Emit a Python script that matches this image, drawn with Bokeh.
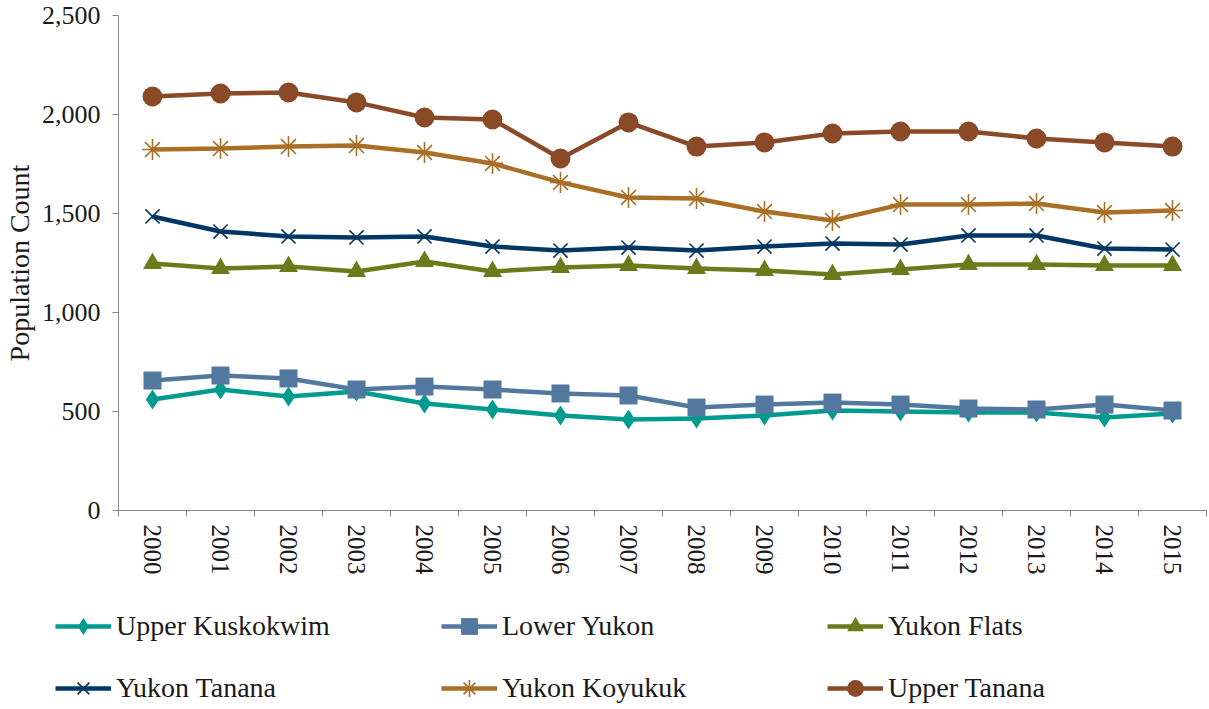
from bokeh.plotting import figure
from bokeh.models import (Range1d, FixedTicker, NumeralTickFormatter, Legend, LegendItem,
                          ColumnDataSource)
from bokeh.embed import file_html
from bokeh.resources import INLINE

years = list(range(2000, 2016))
year_labels = [str(y) for y in years]

upper_kuskokwim = [561, 611, 576, 601, 540, 510, 480, 460, 465, 480, 505, 500, 495, 495, 470, 490]
lower_yukon = [657, 682, 667, 611, 626, 611, 591, 581, 520, 535, 545, 535, 515, 510, 535, 505]
yukon_flats = [1247, 1222, 1232, 1207, 1258, 1207, 1227, 1237, 1222, 1212, 1192, 1217, 1242, 1242, 1237, 1237]
yukon_tanana = [1485, 1409, 1384, 1379, 1384, 1333, 1313, 1328, 1313, 1333, 1348, 1343, 1389, 1389, 1323, 1318]
yukon_koyukuk = [1823, 1828, 1838, 1843, 1808, 1753, 1657, 1581, 1576, 1510, 1465, 1545, 1545, 1550, 1505, 1515]
upper_tanana = [2091, 2106, 2111, 2061, 1985, 1975, 1778, 1960, 1838, 1859, 1904, 1914, 1914, 1879, 1859, 1838]

series = [
    ("Upper Kuskokwim", upper_kuskokwim, "#009B8F", "diamond", 20),
    ("Lower Yukon", lower_yukon, "#53789F", "square", 18),
    ("Yukon Flats", yukon_flats, "#6B7B1B", "triangle", 19),
    ("Yukon Tanana", yukon_tanana, "#003764", "x", 20),
    ("Yukon Koyukuk", yukon_koyukuk, "#A96F27", "asterisk", 21),
    ("Upper Tanana", upper_tanana, "#8A4A27", "circle", 20),
]

FONT = "Liberation Serif"
TEXT = "#1a1a1a"
AXIS = "#888888"
W = 1209

p = figure(width=W, height=590, output_backend="svg", toolbar_location=None,
           x_range=Range1d(1999.5, 2015.5), y_range=Range1d(0, 2500),
           min_border_left=112, min_border_right=3, min_border_top=15, min_border_bottom=80)
p.outline_line_color = None
p.xgrid.visible = False
p.ygrid.visible = False

# legend-only figure below the chart (its glyph copies sit outside its ranges)
lg = figure(width=W, height=119, output_backend="svg", toolbar_location=None,
            x_range=Range1d(-100, -99), y_range=Range1d(-100, -99),
            x_axis_location=None, y_axis_location=None,
            min_border_left=0, min_border_right=0, min_border_top=0, min_border_bottom=0)
lg.outline_line_color = None
lg.xgrid.visible = False
lg.ygrid.visible = False

def draw(fig, src, color, marker, size):
    r1 = fig.line("x", "y", source=src, line_color=color, line_width=4.5)
    if marker in ("x", "asterisk"):
        r2 = fig.scatter("x", "y", source=src, marker=marker, size=size,
                         line_color=color, line_width=1.6, fill_color=None)
    else:
        r2 = fig.scatter("x", "y", source=src, marker=marker, size=size,
                         line_color=color, fill_color=color, line_width=0)
    return r1, r2

items = {}
for name, vals, color, marker, size in series:
    src = ColumnDataSource(dict(x=years, y=vals))
    draw(p, src, color, marker, size)
    r1, r2 = draw(lg, src, color, marker, size)
    items[name] = LegendItem(label=name, renderers=[r1, r2])

# legend fills column by column: order so rows read like the original
legend_order = ["Upper Kuskokwim", "Yukon Tanana", "Lower Yukon",
                "Yukon Koyukuk", "Yukon Flats", "Upper Tanana"]

# axes
p.xaxis.ticker = FixedTicker(ticks=years, minor_ticks=[y - 0.5 for y in years] + [2015.5])
p.xaxis.major_label_overrides = {y: s for y, s in zip(years, year_labels)}
p.xaxis.major_label_orientation = "vertical"
p.xaxis.major_tick_line_color = None
p.xaxis.minor_tick_line_color = AXIS
p.xaxis.minor_tick_out = 6
p.xaxis.minor_tick_in = 0
p.xaxis.axis_line_color = AXIS
p.xaxis.major_label_standoff = 8
p.xaxis.major_label_text_font = FONT
p.xaxis.major_label_text_font_size = "25px"
p.xaxis.major_label_text_color = TEXT

p.yaxis.ticker = FixedTicker(ticks=[0, 500, 1000, 1500, 2000, 2500])
p.yaxis.formatter = NumeralTickFormatter(format="0,0")
p.yaxis.minor_tick_line_color = None
p.yaxis.major_tick_line_color = AXIS
p.yaxis.major_tick_out = 6
p.yaxis.major_tick_in = 0
p.yaxis.axis_line_color = AXIS
p.yaxis.major_label_standoff = 12
p.yaxis.major_label_text_font = FONT
p.yaxis.major_label_text_font_size = "26px"
p.yaxis.major_label_text_color = TEXT
p.yaxis.axis_label = "Population Count"
p.yaxis.axis_label_text_font = FONT
p.yaxis.axis_label_text_font_size = "28px"
p.yaxis.axis_label_text_font_style = "normal"
p.yaxis.axis_label_text_color = TEXT
p.yaxis.axis_label_standoff = 4

legend = Legend(items=[items[n] for n in legend_order], ncols=3, location=(55, 0),
                glyph_width=56, glyph_height=42, label_height=42, label_width=305,
                label_standoff=5, spacing=20, padding=0, margin=0,
                border_line_color=None, background_fill_alpha=0,
                label_text_font=FONT, label_text_font_size="28px",
                label_text_color=TEXT)
lg.add_layout(legend, "center")

open("out.html", "w").write(file_html([p, lg], INLINE))
